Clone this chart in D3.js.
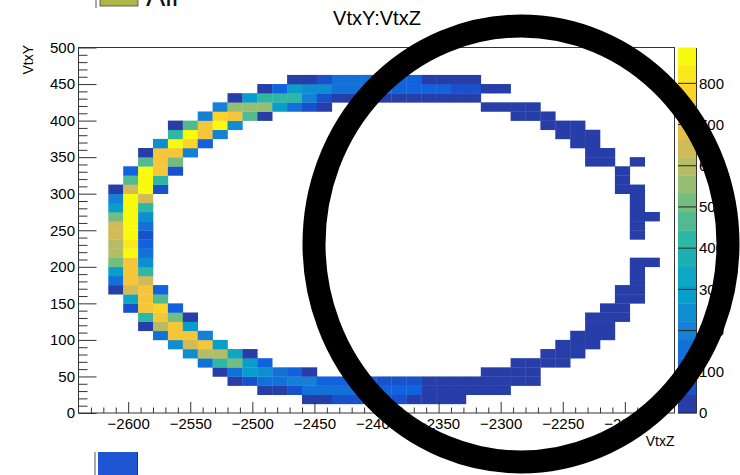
<!DOCTYPE html>
<html><head><meta charset="utf-8">
<script src="https://cdn.jsdelivr.net/npm/d3@7"></script>
<style>
html,body{margin:0;padding:0;background:#fff;}
svg{display:block;font-family:"Liberation Sans",Arial,Helvetica,sans-serif;}
</style></head>
<body>
<svg id="c" width="740" height="475"></svg>
<script>
// ---------------- data ----------------
const chartTitle = "VtxY:VtxZ";
const xTitle = "VtxZ";
const yTitle = "VtxY";
const xRange = [-2640, -2160];   // 40 bins of 12
const yRange = [0, 500];         // 40 bins of 12.5
const nBinsX = 40;
const nBinsY = 40;
const xMajorTicks = [-2600, -2550, -2500, -2450, -2400, -2350, -2300, -2250, -2200];
const yMajorTicks = [0, 50, 100, 150, 200, 250, 300, 350, 400, 450, 500];
const zTicks = [0, 100, 200, 300, 400, 500, 600, 700, 800];
const zMax = 887;
const nContours = 20;
// [yBin, first xBin, counts...]
const binRows = [
  [1, 15, [30,38,50,60,62,58,48,40,35,30,22]],
  [2, 12, [30,40,70,150,160,150,140,130,120,115,100,40,38,35,30,25,20]],
  [3, 10, [35,66,155,160,200,190,110,100,90,90,85,80,75,40,38,35,30,30,28,25,20]],
  [4, 9, [30,160,288,250,160,111,35]],
  [4, 27, [30,28,25,22]],
  [5, 8, [160,421,510,300,111]],
  [5, 29, [30,28,25,20]],
  [6, 7, [250,600,600,340,30]],
  [6, 31, [28,25,22]],
  [7, 6, [260,650,730,280]],
  [7, 32, [25,25,20]],
  [8, 5, [160,735,730,200]],
  [8, 33, [25,22,20]],
  [9, 4, [35,610,740,290]],
  [9, 34, [22,20]],
  [10, 4, [420,735,515,30]],
  [10, 34, [25,22,20]],
  [11, 3, [66,740,790,111]],
  [11, 35, [22,20]],
  [12, 3, [340,735,470]],
  [12, 36, [20,18]],
  [13, 2, [35,645,740,111]],
  [13, 36, [20,18]],
  [14, 2, [160,745,645]],
  [14, 37, [20]],
  [15, 2, [300,750,421]],
  [15, 37, [22]],
  [16, 2, [515,740,250]],
  [16, 37, [20,15]],
  [17, 2, [600,870,160]],
  [18, 2, [610,800,120]],
  [19, 2, [650,860,60]],
  [19, 37, [20]],
  [20, 2, [650,865,155]],
  [20, 37, [22]],
  [21, 2, [515,870,250]],
  [21, 37, [25,15]],
  [22, 2, [300,860,421]],
  [22, 37, [20]],
  [23, 2, [200,865,650]],
  [23, 37, [22]],
  [24, 2, [35,650,870,66]],
  [24, 36, [20,18]],
  [25, 3, [466,880,421]],
  [25, 36, [20]],
  [26, 3, [111,887,740,66]],
  [26, 36, [18]],
  [27, 4, [470,745,515]],
  [27, 34, [20,22]],
  [27, 37, [18]],
  [28, 4, [35,740,735,200]],
  [28, 34, [22,20]],
  [29, 5, [240,860,790,111]],
  [29, 33, [25,20]],
  [30, 6, [421,860,735,200]],
  [30, 32, [25,22,20]],
  [31, 6, [30,466,740,860,244]],
  [31, 31, [28,25,20]],
  [32, 8, [200,790,745,466,35]],
  [32, 29, [30,28,22]],
  [33, 9, [200,560,560,550,300,150,66,30]],
  [33, 27, [35,30,28,22]],
  [34, 10, [35,300,421,421,400,200,66,35,30,30,30,30,35,35,30,30,25]],
  [35, 12, [35,111,300,250,250,160,160,150,140,130,111,111,100,66,60,35,30]],
  [36, 14, [30,35,66,150,150,140,130,120,111,40,35,30,25]]
];

// ---------------- palette (ROOT kBird) ----------------
const birdStops = [0.0, 0.125, 0.25, 0.375, 0.5, 0.625, 0.75, 0.875, 1.0];
const birdR = [0.2082, 0.0592, 0.0780, 0.0232, 0.1802, 0.5301, 0.8186, 0.9956, 0.9764];
const birdG = [0.1664, 0.3599, 0.5041, 0.6419, 0.7178, 0.7492, 0.7328, 0.7862, 0.9832];
const birdB = [0.5293, 0.8684, 0.8385, 0.7914, 0.6425, 0.4662, 0.3499, 0.1968, 0.0539];
const birdScale = t => {
  const r = d3.scaleLinear().domain(birdStops).range(birdR)(t);
  const g = d3.scaleLinear().domain(birdStops).range(birdG)(t);
  const b = d3.scaleLinear().domain(birdStops).range(birdB)(t);
  return d3.rgb(r*255, g*255, b*255).formatHex();
};
const levelColor = k => birdScale(Math.floor((k + 0.99) * 255 / nContours) / 254);
const valueColor = v => {
  let k = Math.floor(0.01 + v * nContours / zMax);
  if (k >= nContours) k = nContours - 1;
  return levelColor(k);
};

// ---------------- layout ----------------
const svg = d3.select("#c");
const F = {l: 78.5, r: 674.5, t: 47.5, b: 413};
const x = d3.scaleLinear().domain(xRange).range([F.l, F.r]);
const y = d3.scaleLinear().domain(yRange).range([F.b, F.t]);
const z = d3.scaleLinear().domain([0, zMax]).range([F.b, F.t]);
const dx = (xRange[1] - xRange[0]) / nBinsX;
const dy = (yRange[1] - yRange[0]) / nBinsY;

// legend fragments from neighbouring pads
svg.append("line").attr("x1", 96).attr("x2", 96).attr("y1", 0).attr("y2", 8).attr("stroke", "#555").attr("stroke-width", 1);
svg.append("rect").attr("x", 100).attr("y", -4).attr("width", 38).attr("height", 10).attr("fill", "#aeb64a").attr("stroke", "#444").attr("stroke-width", 0.8);
svg.append("text").attr("x", 146).attr("y", 6).attr("font-size", 29).attr("fill", "#111").text("All");
svg.append("line").attr("x1", 95).attr("x2", 95).attr("y1", 452).attr("y2", 475).attr("stroke", "#555").attr("stroke-width", 1);
svg.append("rect").attr("x", 98).attr("y", 452).attr("width", 39).attr("height", 25).attr("fill", "#1f55d3");
svg.append("line").attr("x1", 137.5).attr("x2", 137.5).attr("y1", 452).attr("y2", 475).attr("stroke", "#333").attr("stroke-width", 1);

// title
svg.append("text").attr("x", 377).attr("y", 25).attr("text-anchor", "middle").attr("font-size", 20).text(chartTitle);

// cells
const cells = [];
binRows.forEach(([j, i0, vals]) => vals.forEach((v, k) => cells.push({i: i0 + k, j, v})));
svg.append("g").selectAll("rect").data(cells.filter(d => d.v > 0)).join("rect")
  .attr("x", d => x(xRange[0] + d.i * dx))
  .attr("width", d => x(xRange[0] + (d.i + 1) * dx) - x(xRange[0] + d.i * dx) + 0.3)
  .attr("y", d => y(yRange[0] + (d.j + 1) * dy))
  .attr("height", d => y(yRange[0] + d.j * dy) - y(yRange[0] + (d.j + 1) * dy) + 0.3)
  .attr("fill", d => valueColor(d.v));

// axes
const minorX = d3.range(xRange[0] + 10, xRange[1], 10).filter(v => v % 50 !== 0);
const minorY = d3.range(10, 500, 10).filter(v => v % 50 !== 0);
const gx = svg.append("g").attr("transform", `translate(0,${F.b})`);
gx.call(d3.axisBottom(x).tickValues(minorX).tickSize(-5.5).tickFormat(""));
gx.call(g => g.select(".domain").remove());
const gx2 = svg.append("g").attr("transform", `translate(0,${F.b})`);
gx2.call(d3.axisBottom(x).tickValues(xMajorTicks).tickSize(-11).tickPadding(5).tickFormat(d3.format("d")));
gx2.call(g => g.select(".domain").remove());
const gy = svg.append("g").attr("transform", `translate(${F.l},0)`);
gy.call(d3.axisLeft(y).tickValues(minorY).tickSize(-9).tickFormat(""));
gy.call(g => g.select(".domain").remove());
const gy2 = svg.append("g").attr("transform", `translate(${F.l},0)`);
gy2.call(d3.axisLeft(y).tickValues(yMajorTicks).tickSize(-18).tickPadding(3.5).tickFormat(d3.format("d")));
gy2.call(g => g.select(".domain").remove());
svg.selectAll(".tick line").attr("stroke", "#333");
svg.selectAll(".tick text").attr("font-size", 15).attr("font-family", "Liberation Sans, Arial, sans-serif").attr("fill", "#000");

// frame
svg.append("rect").attr("x", F.l).attr("y", F.t).attr("width", F.r - F.l).attr("height", F.b - F.t)
  .attr("fill", "none").attr("stroke", "#333").attr("stroke-width", 1);

// axis titles
svg.append("text").attr("x", F.r).attr("y", 446).attr("text-anchor", "end").attr("font-size", 14).text(xTitle);
svg.append("text").attr("transform", "translate(33,45) rotate(-90)").attr("text-anchor", "end").attr("font-size", 14).text(yTitle);

// colour bar
const P = {l: 678, r: 696};
const levels = d3.range(nContours);
svg.append("g").selectAll("rect").data(levels).join("rect")
  .attr("x", P.l).attr("width", P.r - P.l)
  .attr("y", k => z((k + 1) * zMax / nContours))
  .attr("height", k => z(k * zMax / nContours) - z((k + 1) * zMax / nContours) + 0.3)
  .attr("fill", k => levelColor(k));
const gz = svg.append("g").attr("transform", `translate(${P.r},0)`);
gz.call(d3.axisRight(z).tickValues(zTicks).tickSize(0).tickPadding(3).tickFormat(d3.format("d")));
gz.call(g => g.select(".domain").attr("stroke", "#333"));
gz.selectAll(".tick text").attr("font-size", 15).attr("font-family", "Liberation Sans, Arial, sans-serif");
svg.append("g").selectAll("line").data(zTicks).join("line")
  .attr("x1", P.l).attr("x2", P.r).attr("y1", d => z(d)).attr("y2", d => z(d))
  .attr("stroke", "#222").attr("stroke-width", 1);

// overlay ring
svg.append("ellipse").attr("cx", 521).attr("cy", 244).attr("rx", 207).attr("ry", 218)
  .attr("fill", "none").attr("stroke", "#000").attr("stroke-width", 23);
</script>
</body></html>
